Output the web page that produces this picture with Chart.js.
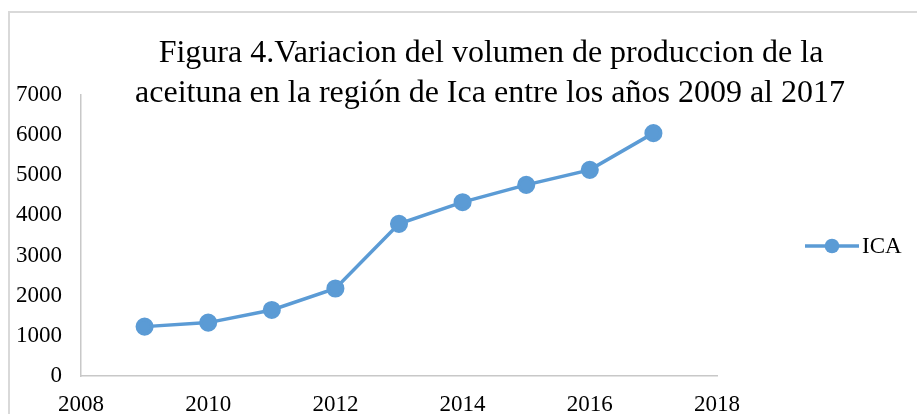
<!DOCTYPE html>
<html>
<head>
<meta charset="utf-8">
<script src="https://cdn.jsdelivr.net/npm/chart.js@4/dist/chart.umd.min.js"></script>
<style>
  html, body { margin: 0; padding: 0; background: #fff; }
  #wrap { width: 917px; height: 414px; position: relative; }
</style>
</head>
<body>
<div id="wrap"><canvas id="oliveChart"></canvas></div>
<script>
// datos
const years = [2009, 2010, 2011, 2012, 2013, 2014, 2015, 2016, 2017];
const icaValues = [1230, 1330, 1645, 2180, 3790, 4330, 4760, 5135, 6050];
const seriesName = 'ICA';
const titleLines = [
    'Figura 4.Variacion del volumen de produccion de la',
    'aceituna en la región de Ica entre los años 2009 al 2017'
];

const LINE_COLOR = '#5b9bd5';
const AXIS_COLOR = '#c8c8c8';
const FONT = '"Liberation Serif", "Times New Roman", serif';

// marco, titulo y leyenda dibujados a mano
const decor = {
    id: 'decor',
    beforeDraw(chart) {
        const ctx = chart.ctx;
        ctx.save();
        ctx.fillStyle = '#fff';
        ctx.fillRect(0, 0, chart.width, chart.height);
        ctx.strokeStyle = '#d9d9d9';
        ctx.lineWidth = 2;
        ctx.strokeRect(9, 12, chart.width + 20, chart.height + 20);
        ctx.restore();
    },
    afterDraw(chart) {
        const ctx = chart.ctx;
        ctx.save();
        ctx.fillStyle = '#000';
        ctx.font = '32px ' + FONT;
        ctx.textAlign = 'center';
        ctx.textBaseline = 'middle';
        ctx.fillText(titleLines[0], 491, 54);
        ctx.fillText(titleLines[1], 490, 94);

        // leyenda
        const ly = 246;
        ctx.strokeStyle = LINE_COLOR;
        ctx.lineWidth = 3.5;
        ctx.beginPath();
        ctx.moveTo(805, ly);
        ctx.lineTo(859, ly);
        ctx.stroke();
        ctx.fillStyle = LINE_COLOR;
        ctx.beginPath();
        ctx.arc(832, ly, 7.3, 0, Math.PI * 2);
        ctx.fill();
        ctx.fillStyle = '#000';
        ctx.font = '23px ' + FONT;
        ctx.textAlign = 'left';
        ctx.fillText(chart.data.datasets[0].label, 862, ly + 1);
        ctx.restore();
    }
};

const ctx = document.getElementById('oliveChart').getContext('2d');
new Chart(ctx, {
    type: 'line',
    data: {
        datasets: [{
            label: seriesName,
            data: years.map((y, i) => ({ x: y, y: icaValues[i] })),
            borderColor: LINE_COLOR,
            backgroundColor: LINE_COLOR,
            borderWidth: 3.5,
            pointRadius: 7.3,
            pointHoverRadius: 7.3,
            pointBackgroundColor: LINE_COLOR,
            pointBorderColor: LINE_COLOR,
            tension: 0
        }]
    },
    options: {
        responsive: true,
        maintainAspectRatio: false,
        animation: false,
        layout: { padding: { top: 95, right: 200, left: 0, bottom: 0 } },
        plugins: {
            legend: { display: false },
            title: { display: false },
            tooltip: { enabled: false }
        },
        scales: {
            x: {
                type: 'linear',
                min: 2008,
                max: 2018,
                afterFit: s => { s.height = 38; },
                grid: { display: false, drawTicks: false },
                border: { color: AXIS_COLOR, width: 1.5 },
                ticks: {
                    stepSize: 2,
                    padding: 15,
                    color: '#000',
                    font: { family: FONT, size: 23 },
                    callback: v => String(v)
                }
            },
            y: {
                min: 0,
                max: 7000,
                afterFit: s => { s.width = 81; },
                grid: { display: false, drawTicks: false },
                border: { color: AXIS_COLOR, width: 1.5 },
                ticks: {
                    stepSize: 1000,
                    padding: 19,
                    color: '#000',
                    font: { family: FONT, size: 23 },
                    callback: v => String(v)
                }
            }
        }
    },
    plugins: [decor]
});
</script>
</body>
</html>
